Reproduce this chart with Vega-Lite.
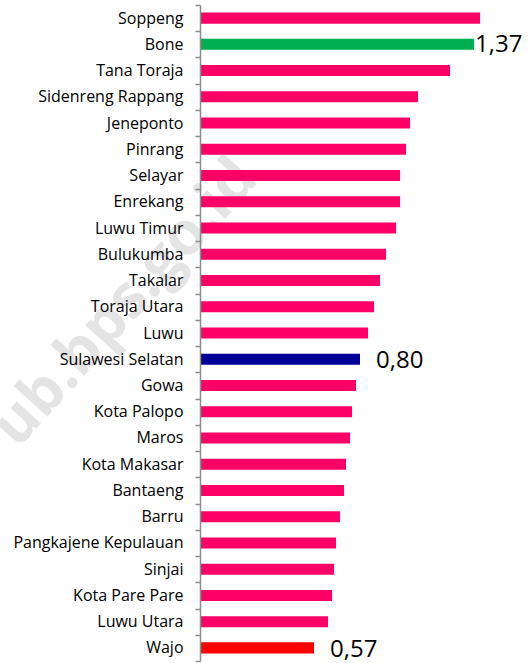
{
  "$schema": "https://vega.github.io/schema/vega-lite/v6.json",
  "width": 320,
  "height": 656,
  "autosize": {"type": "none"},
  "padding": {"left": 200, "top": 5, "right": 11, "bottom": 2},
  "config": {
    "view": {"stroke": null},
    "locale": {"number": {"decimal": ",", "thousands": ".", "grouping": [3], "currency": ["Rp", ""]}}
  },
  "datasets": {
    "bars": [
      {"wilayah": "Soppeng", "nilai": 1.40, "grup": "kab"},
      {"wilayah": "Bone", "nilai": 1.37, "grup": "max"},
      {"wilayah": "Tana Toraja", "nilai": 1.25, "grup": "kab"},
      {"wilayah": "Sidenreng Rappang", "nilai": 1.09, "grup": "kab"},
      {"wilayah": "Jeneponto", "nilai": 1.05, "grup": "kab"},
      {"wilayah": "Pinrang", "nilai": 1.03, "grup": "kab"},
      {"wilayah": "Selayar", "nilai": 1.00, "grup": "kab"},
      {"wilayah": "Enrekang", "nilai": 1.00, "grup": "kab"},
      {"wilayah": "Luwu Timur", "nilai": 0.98, "grup": "kab"},
      {"wilayah": "Bulukumba", "nilai": 0.93, "grup": "kab"},
      {"wilayah": "Takalar", "nilai": 0.90, "grup": "kab"},
      {"wilayah": "Toraja Utara", "nilai": 0.87, "grup": "kab"},
      {"wilayah": "Luwu", "nilai": 0.84, "grup": "kab"},
      {"wilayah": "Sulawesi Selatan", "nilai": 0.80, "grup": "prov"},
      {"wilayah": "Gowa", "nilai": 0.78, "grup": "kab"},
      {"wilayah": "Kota Palopo", "nilai": 0.76, "grup": "kab"},
      {"wilayah": "Maros", "nilai": 0.75, "grup": "kab"},
      {"wilayah": "Kota Makasar", "nilai": 0.73, "grup": "kab"},
      {"wilayah": "Bantaeng", "nilai": 0.72, "grup": "kab"},
      {"wilayah": "Barru", "nilai": 0.70, "grup": "kab"},
      {"wilayah": "Pangkajene Kepulauan", "nilai": 0.68, "grup": "kab"},
      {"wilayah": "Sinjai", "nilai": 0.67, "grup": "kab"},
      {"wilayah": "Kota Pare Pare", "nilai": 0.66, "grup": "kab"},
      {"wilayah": "Luwu Utara", "nilai": 0.64, "grup": "kab"},
      {"wilayah": "Wajo", "nilai": 0.57, "grup": "min"}
    ],
    "watermark": [
      {"wilayah": "Toraja Utara", "nilai": -0.35, "teks": "ub.bps.go.id"}
    ]
  },
  "encoding": {
    "y": {
      "field": "wilayah", "type": "nominal", "sort": null,
      "scale": {
        "domain": ["Soppeng", "Bone", "Tana Toraja", "Sidenreng Rappang", "Jeneponto", "Pinrang", "Selayar", "Enrekang", "Luwu Timur", "Bulukumba", "Takalar", "Toraja Utara", "Luwu", "Sulawesi Selatan", "Gowa", "Kota Palopo", "Maros", "Kota Makasar", "Bantaeng", "Barru", "Pangkajene Kepulauan", "Sinjai", "Kota Pare Pare", "Luwu Utara", "Wajo"],
        "paddingInner": 0, "paddingOuter": 0
      },
      "axis": {
        "title": null, "tickBand": "extent", "domainColor": "#8c8c8c", "domainWidth": 1.5,
        "tickColor": "#8c8c8c", "tickWidth": 1.5, "tickSize": 5, "labelPadding": 12, "zindex": 1,
        "labelFont": "Open Sans", "labelFontSize": 16, "labelColor": "#000000", "labelLimit": 300
      }
    },
    "x": {
      "field": "nilai", "type": "quantitative",
      "scale": {"domain": [0, 1.6], "nice": false, "zero": true},
      "axis": null
    }
  },
  "layer": [
    {
      "data": {"name": "watermark"},
      "mark": {"type": "text", "angle": -48, "align": "center", "baseline": "middle", "dy": -6, "font": "Open Sans", "fontSize": 60, "fontWeight": "bold", "color": "#e4e4e4"},
      "encoding": {"text": {"field": "teks"}}
    },
    {
      "data": {"name": "bars"},
      "mark": {"type": "bar", "height": {"band": 0.42}},
      "encoding": {
        "color": {
          "field": "grup", "type": "nominal", "legend": null,
          "scale": {"domain": ["kab", "max", "prov", "min"], "range": ["#FF0066", "#00B050", "#000099", "#FF0000"]}
        }
      }
    },
    {
      "data": {"name": "bars"},
      "transform": [{"filter": "datum.grup === 'max'"}],
      "mark": {"type": "text", "align": "left", "baseline": "middle", "dx": 1, "dy": 1, "font": "Open Sans", "fontSize": 24, "color": "#000000"},
      "encoding": {"text": {"field": "nilai", "type": "quantitative", "format": ".2f"}}
    },
    {
      "data": {"name": "bars"},
      "transform": [{"filter": "datum.grup === 'prov' || datum.grup === 'min'"}],
      "mark": {"type": "text", "align": "left", "baseline": "middle", "dx": 16, "dy": 2, "font": "Open Sans", "fontSize": 24, "color": "#000000"},
      "encoding": {"text": {"field": "nilai", "type": "quantitative", "format": ".2f"}}
    }
  ]
}
